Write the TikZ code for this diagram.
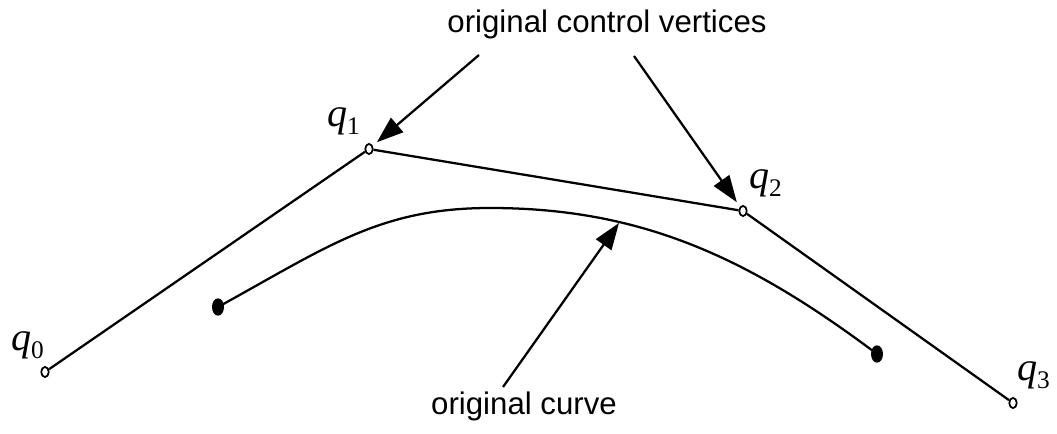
\documentclass[tikz,border=0pt]{standalone}
\usepackage{fontspec}
\setmainfont{Liberation Sans}
\newfontfamily\qfont{Liberation Serif}
\usetikzlibrary{arrows.meta,shapes.geometric}
\newcommand\qlabel[1]{{\qfont\fontsize{30}{34}\selectfont\itshape q\raisebox{-6pt}{\upshape\fontsize{19}{19}\selectfont #1}}}

\begin{document}
\begin{tikzpicture}[x=0.75pt, y=-0.75pt,
    line width=1.7pt,
    vtx/.style={draw, ellipse, inner sep=0pt, minimum width=5.6pt, minimum height=7.6pt, line width=1.3pt},
    enddot/.style={ellipse, fill=black, inner sep=0pt, minimum width=9pt, minimum height=13pt},
    qlab/.style={anchor=base west, inner sep=0pt},
    lbl/.style={font=\fontsize{23.4}{28}\selectfont, inner sep=0pt, anchor=base},
    arrow/.style={-{Triangle[length=20pt,width=14pt]}, line width=1.7pt}
  ]
    \useasboundingbox (0,0) rectangle (1057,434);
    % control polygon
    \node[vtx] (q0) at (45,372) {};
    \node[vtx] (q1) at (369,149) {};
    \node[vtx] (q2) at (743,211) {};
    \node[vtx] (q3) at (1013,403) {};
    \draw (q0) -- (q1) -- (q2) -- (q3);
    \node[qlab] (l0) at (10,351) {\qlabel{0}};
    \node[qlab] (l1) at (326,127) {\qlabel{1}};
    \node[qlab] (l2) at (748,189) {\qlabel{2}};
    \node[qlab] (l3) at (1016,381) {\qlabel{3}};
    % curve
    \node[enddot] (c0) at (218,307) {};
    \node[enddot] (c1) at (877,354) {};
    \coordinate (top) at (490,208);
    \draw (c0.center) .. controls (328,246.5) and (380,208) .. (top)
      .. controls (640,208) and (747,256.5) .. (c1.center);
    % labels
    \node[lbl] (cv) at (607,33) {original control vertices};
    \node[lbl] (oc) at (524,415) {original curve};
    \coordinate (cv1) at (479,55);
    \coordinate (cv2) at (634,56);
    \coordinate (oc1) at (503,387);
    \coordinate (ct) at (619,223);
    \draw[arrow, shorten >=4pt] (cv1) -- (q1);
    \draw[arrow, shorten >=4pt] (cv2) -- (q2);
    \draw[arrow] (oc1) -- (ct);
\end{tikzpicture}
\end{document}
